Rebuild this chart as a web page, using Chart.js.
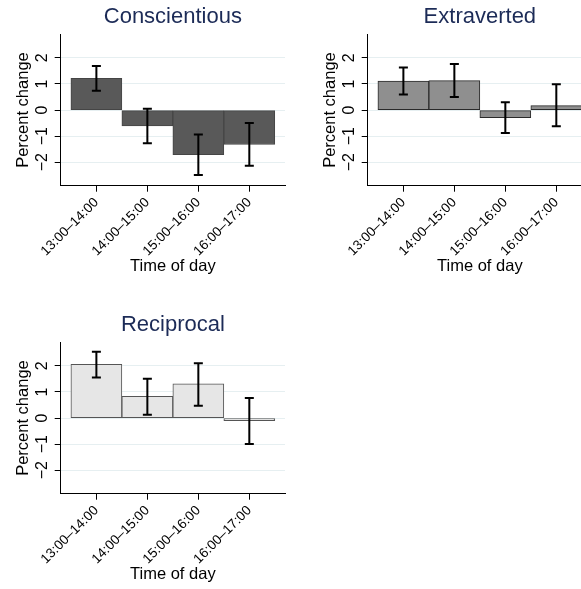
<!DOCTYPE html>
<html>
<head>
<meta charset="utf-8">
<script src="https://cdn.jsdelivr.net/npm/chart.js@4/dist/chart.umd.min.js"></script>
<style>
  html, body { margin: 0; padding: 0; background: #fff; overflow: hidden; }
  body { width: 581px; height: 589px; position: relative; }
  canvas { position: absolute; }
  #conscChart { left: 0; top: 0; }
  #extraChart { left: 307px; top: 0; }
  #recipChart { left: 0; top: 308px; }
</style>
</head>
<body>
<canvas id="conscChart" width="300" height="276"></canvas>
<canvas id="extraChart" width="300" height="276"></canvas>
<canvas id="recipChart" width="300" height="276"></canvas>
<script>
/* global Chart */

const timeSlots = ['13:00\u201314:00', '14:00\u201315:00', '15:00\u201316:00', '16:00\u201317:00'];
const yTicks = [-2, -1, 0, 1, 2];

// percent change per hour, with lower / upper bounds of the interval
const conscientious = [1.22, -0.61, -1.71, -1.32];
const conscLow = [0.74, -1.27, -2.49, -2.14];
const conscHigh = [1.69, 0.05, -0.94, -0.50];

const extraverted = [1.11, 1.13, -0.29, 0.17];
const extraLow = [0.60, 0.50, -0.88, -0.62];
const extraHigh = [1.63, 1.77, 0.30, 0.99];

const reciprocal = [2.06, 0.83, 1.31, -0.10];
const recipLow = [1.55, 0.13, 0.47, -0.99];
const recipHigh = [2.54, 1.51, 2.10, 0.77];

const FONT = "'Liberation Sans', Arial, Helvetica, sans-serif";
Chart.defaults.font.family = FONT;
Chart.defaults.color = '#000';

// whiskers drawn on top of the bars
const errorBars = {
  id: 'errorBars',
  afterDatasetsDraw(chart, args, opts) {
    const ctx = chart.ctx;
    const xs = chart.scales.x;
    const ys = chart.scales.y;
    ctx.save();
    ctx.strokeStyle = '#000';
    ctx.lineWidth = 2;
    for (let i = 0; i < opts.low.length; i++) {
      const x = xs.getPixelForValue(i + 1);
      const yLo = ys.getPixelForValue(opts.low[i]);
      const yHi = ys.getPixelForValue(opts.high[i]);
      ctx.beginPath();
      ctx.moveTo(x, yLo);
      ctx.lineTo(x, yHi);
      ctx.moveTo(x - 4.5, yLo);
      ctx.lineTo(x + 4.5, yLo);
      ctx.moveTo(x - 4.5, yHi);
      ctx.lineTo(x + 4.5, yHi);
      ctx.stroke();
    }
    ctx.restore();
  }
};

// y tick labels turned 90 degrees, reading upwards
const sideLabels = {
  id: 'sideLabels',
  afterDraw(chart) {
    const ctx = chart.ctx;
    const ys = chart.scales.y;
    ctx.save();
    ctx.font = '16px ' + FONT;
    ctx.fillStyle = '#000';
    ctx.textAlign = 'center';
    ctx.textBaseline = 'middle';
    ys.ticks.forEach(function(tick, i) {
      const y = ys.getPixelForTick(i);
      const label = tick.value < 0 ? '\u2212' + Math.abs(tick.value) : String(tick.value);
      ctx.save();
      ctx.translate(ys.right - 18.5, y);
      ctx.rotate(-Math.PI / 2);
      ctx.fillText(label, 0, 0);
      ctx.restore();
    });
    ctx.restore();
  }
};

function makePanel(canvasId, title, values, low, high, fill, edge) {
  const ctx = document.getElementById(canvasId).getContext('2d');
  return new Chart(ctx, {
    type: 'bar',
    data: {
      datasets: [{
        data: values.map((v, i) => ({ x: i + 1, y: v })),
        backgroundColor: fill,
        borderColor: edge,
        borderWidth: 1,
        borderSkipped: false,
        categoryPercentage: 1,
        barPercentage: 1
      }]
    },
    options: {
      responsive: false,
      animation: false,
      devicePixelRatio: 1,
      layout: { padding: { left: 0, right: 15, top: 0, bottom: 0 } },
      plugins: {
        legend: { display: false },
        tooltip: { enabled: false },
        title: {
          display: true,
          text: title,
          fullSize: false,
          color: '#1c2b57',
          font: { size: 22, weight: 'normal' },
          padding: { top: 4, bottom: 4 }
        },
        errorBars: { low: low, high: high }
      },
      scales: {
        x: {
          type: 'linear',
          min: 0.3,
          max: 4.7,
          offset: false,
          afterBuildTicks: s => { s.ticks = timeSlots.map((t, i) => ({ value: i + 1 })); },
          afterFit: s => { s.height = 90.3; },
          ticks: {
            callback: v => timeSlots[v - 1],
            minRotation: 45,
            maxRotation: 45,
            autoSkip: false,
            padding: 3,
            font: { size: 13.5 }
          },
          grid: { offset: false, drawOnChartArea: false, tickLength: 6, tickColor: '#000' },
          border: { color: '#000', width: 1 },
          title: { display: true, text: 'Time of day', font: { size: 16.5 }, padding: 0 }
        },
        y: {
          type: 'linear',
          min: -2.9,
          max: 2.9,
          afterBuildTicks: s => { s.ticks = yTicks.map(v => ({ value: v })); },
          afterFit: s => { s.width = 60.7; },
          ticks: { display: false },
          grid: { color: '#e6eff1', tickColor: '#000', tickLength: 6 },
          border: { color: '#000', width: 1 },
          title: { display: true, text: 'Percent change', font: { size: 16.5 }, padding: { top: 14, bottom: 0 } }
        }
      }
    },
    plugins: [errorBars, sideLabels]
  });
}

makePanel('conscChart', 'Conscientious', conscientious, conscLow, conscHigh, '#595959', '#454545');
makePanel('extraChart', 'Extraverted', extraverted, extraLow, extraHigh, '#8f8f8f', '#2a2a2a');
makePanel('recipChart', 'Reciprocal', reciprocal, recipLow, recipHigh, '#e6e6e6', '#555555');
</script>
</body>
</html>
